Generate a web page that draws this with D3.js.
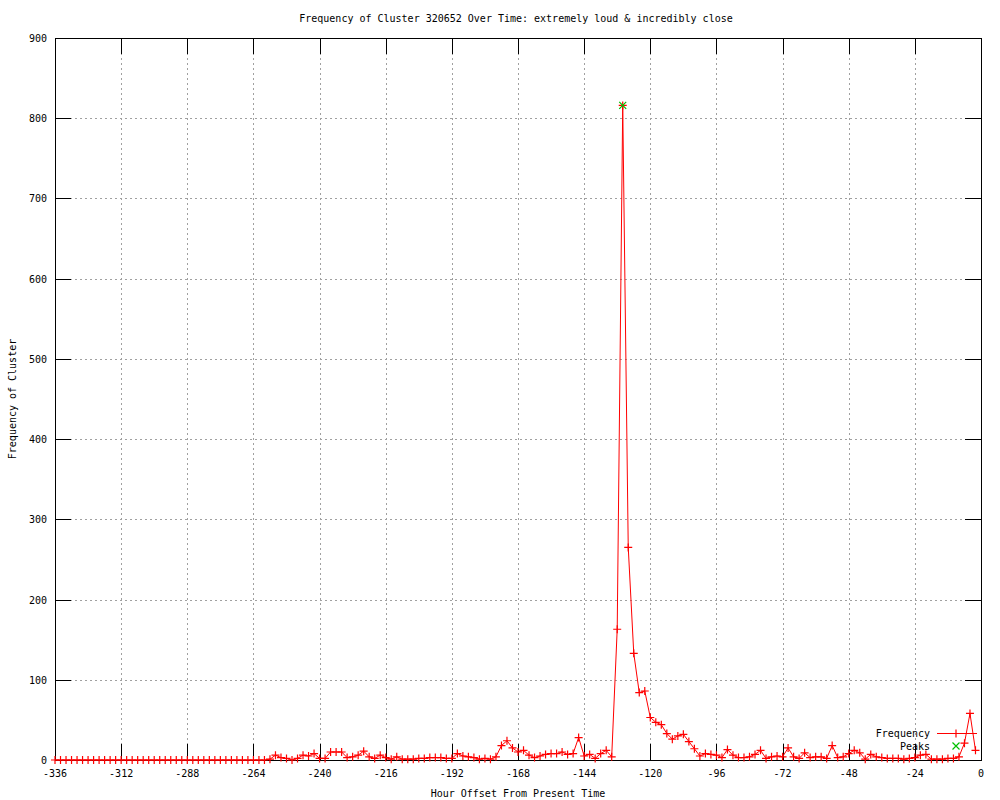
<!DOCTYPE html>
<html>
<head>
<meta charset="utf-8">
<script src="https://cdn.jsdelivr.net/npm/d3@7"></script>
<style>
  body { margin: 0; background: #fff; }
  text { font-family: "DejaVu Sans Mono", monospace; font-size: 10px; fill: #000; }
</style>
</head>
<body>
<svg id="chart" width="1000" height="800"></svg>
<script>
const titleText = "Frequency of Cluster 320652 Over Time: extremely loud & incredibly close";
const xLabel = "Hour Offset From Present Time";
const yLabel = "Frequency of Cluster";

// hour offsets, one sample every 2 hours
const hours = d3.range(-336, 0, 2);

// frequency per sample (-336 .. -2)
const frequency = [
  0, 0, 0, 0, 0, 0, 0, 0, 0, 0, 0, 0, 0, 0, 0, 0, 0, 0, 0, 0,
  0, 0, 0, 0, 0, 0, 0, 0, 0, 0, 0, 0, 0, 0, 0, 0, 0, 0, 0,
  1, 6, 3, 2, 0, 2, 6, 5, 8, 2, 2, 10, 10, 10, 3, 4, 6, 11, 4, 2,
  6, 3, 1, 4, 1, 1, 1, 2, 2, 3, 3, 3, 2, 2, 8, 5, 4, 3, 1, 2,
  1, 4, 18, 24, 15, 10, 12, 6, 3, 5, 7, 8, 8, 10, 7, 8, 28, 5, 7, 2,
  8, 12, 4, 163, 816, 265, 133, 84, 86, 53, 47, 44, 33, 26, 30, 32, 23, 14, 5, 8,
  7, 6, 3, 13, 6, 3, 3, 4, 7, 12, 2, 4, 5, 4, 15, 4, 2, 9, 3, 4,
  4, 2, 18, 3, 4, 8, 12, 9, 1, 7, 4, 3, 2, 2, 2, 1, 2, 3, 6, 7,
  1, 1, 1, 2, 2, 4, 21, 58, 12
];

const peakHours = [-130];
const peakValues = [816];

const xTicks = [-336, -312, -288, -264, -240, -216, -192, -168, -144, -120, -96, -72, -48, -24, 0];
const yTicks = [0, 100, 200, 300, 400, 500, 600, 700, 800, 900];

const margin = { left: 55, right: 19, top: 38, bottom: 40 };
const svg = d3.select("#chart");
const W = 1000, H = 800;
const plotW = W - margin.left - margin.right;
const plotH = H - margin.top - margin.bottom;

const x = d3.scaleLinear().domain([-336, 0]).range([margin.left, margin.left + plotW]);
const y = d3.scaleLinear().domain([0, 900]).range([margin.top + plotH, margin.top]);

const data = hours.map((h, i) => ({ h: h, v: frequency[i] }));
const peaks = peakHours.map((h, i) => ({ h: h, v: peakValues[i] }));

const x0 = x.range()[0], x1 = x.range()[1];
const y0 = y.range()[0], y1 = y.range()[1];
const tickLen = 16;

// grid lines (dashed grey)
svg.append("g").selectAll("line")
    .data(xTicks.slice(1, -1))
    .enter().append("line")
    .attr("x1", d => Math.round(x(d)) + 0.5).attr("x2", d => Math.round(x(d)) + 0.5)
    .attr("y1", y1).attr("y2", y0)
    .attr("stroke", "#a0a0a0").attr("stroke-dasharray", "2,3");
svg.append("g").selectAll("line")
    .data(yTicks.slice(1, -1))
    .enter().append("line")
    .attr("y1", d => Math.round(y(d)) + 0.5).attr("y2", d => Math.round(y(d)) + 0.5)
    .attr("x1", x0).attr("x2", x1)
    .attr("stroke", "#a0a0a0").attr("stroke-dasharray", "2,3");

// tick marks, mirrored on all four sides
const ticks = svg.append("g").attr("stroke", "#000");
xTicks.forEach(t => {
    const px = Math.round(x(t)) + 0.5;
    ticks.append("line").attr("x1", px).attr("x2", px).attr("y1", y0).attr("y2", y0 - tickLen);
    ticks.append("line").attr("x1", px).attr("x2", px).attr("y1", y1).attr("y2", y1 + tickLen);
});
yTicks.forEach(t => {
    const py = Math.round(y(t)) + 0.5;
    ticks.append("line").attr("y1", py).attr("y2", py).attr("x1", x0).attr("x2", x0 + tickLen);
    ticks.append("line").attr("y1", py).attr("y2", py).attr("x1", x1).attr("x2", x1 - tickLen);
});

// border
svg.append("rect")
    .attr("x", Math.round(x0) + 0.5).attr("y", Math.round(y1) + 0.5)
    .attr("width", Math.round(x1 - x0)).attr("height", Math.round(y0 - y1))
    .attr("fill", "none").attr("stroke", "#000");

// tick labels
svg.append("g").selectAll("text")
    .data(xTicks)
    .enter().append("text")
    .attr("x", d => x(d)).attr("y", y0 + 17)
    .attr("text-anchor", "middle")
    .text(d => d);
svg.append("g").selectAll("text")
    .data(yTicks)
    .enter().append("text")
    .attr("x", x0 - 8).attr("y", d => y(d) + 4)
    .attr("text-anchor", "end")
    .text(d => d);

// title and axis labels
svg.append("text").attr("x", 516).attr("y", 22).attr("text-anchor", "middle").text(titleText);
svg.append("text").attr("x", 518).attr("y", 797).attr("text-anchor", "middle").text(xLabel);
svg.append("text")
    .attr("transform", "translate(16," + (y1 + y0) / 2 + ") rotate(-90)")
    .attr("text-anchor", "middle")
    .text(yLabel);

// frequency line with + markers
const line = d3.line().x(d => x(d.h)).y(d => y(d.v));
svg.append("path")
    .datum(data)
    .attr("d", line)
    .attr("fill", "none")
    .attr("stroke", "#ff0000")
    .attr("stroke-width", 1);

function plusPath(cx, cy, r) {
    return "M" + (cx - r) + "," + cy + "H" + (cx + r) + "M" + cx + "," + (cy - r) + "V" + (cy + r);
}
function crossPath(cx, cy, r) {
    return "M" + (cx - r) + "," + (cy - r) + "L" + (cx + r) + "," + (cy + r) +
           "M" + (cx - r) + "," + (cy + r) + "L" + (cx + r) + "," + (cy - r);
}

svg.append("g").selectAll("path")
    .data(data)
    .enter().append("path")
    .attr("d", d => plusPath(x(d.h), y(d.v), 4))
    .attr("stroke", "#ff0000")
    .attr("stroke-width", 1.2);

// peaks
svg.append("g").selectAll("path")
    .data(peaks)
    .enter().append("path")
    .attr("d", d => crossPath(x(d.h), y(d.v), 3.5))
    .attr("stroke", "#00c000")
    .attr("stroke-width", 1.2);

// legend
const legX = 930, legLine = [937, 977];
svg.append("text").attr("x", legX).attr("y", 737).attr("text-anchor", "end").text("Frequency");
svg.append("line")
    .attr("x1", legLine[0]).attr("x2", legLine[1]).attr("y1", 733.5).attr("y2", 733.5)
    .attr("stroke", "#ff0000");
svg.append("path").attr("d", plusPath(956, 733.5, 4)).attr("stroke", "#ff0000").attr("stroke-width", 1.2);
svg.append("text").attr("x", legX).attr("y", 750).attr("text-anchor", "end").text("Peaks");
svg.append("path").attr("d", crossPath(956, 746, 3.5)).attr("stroke", "#00c000").attr("stroke-width", 1.2);
</script>
</body>
</html>
